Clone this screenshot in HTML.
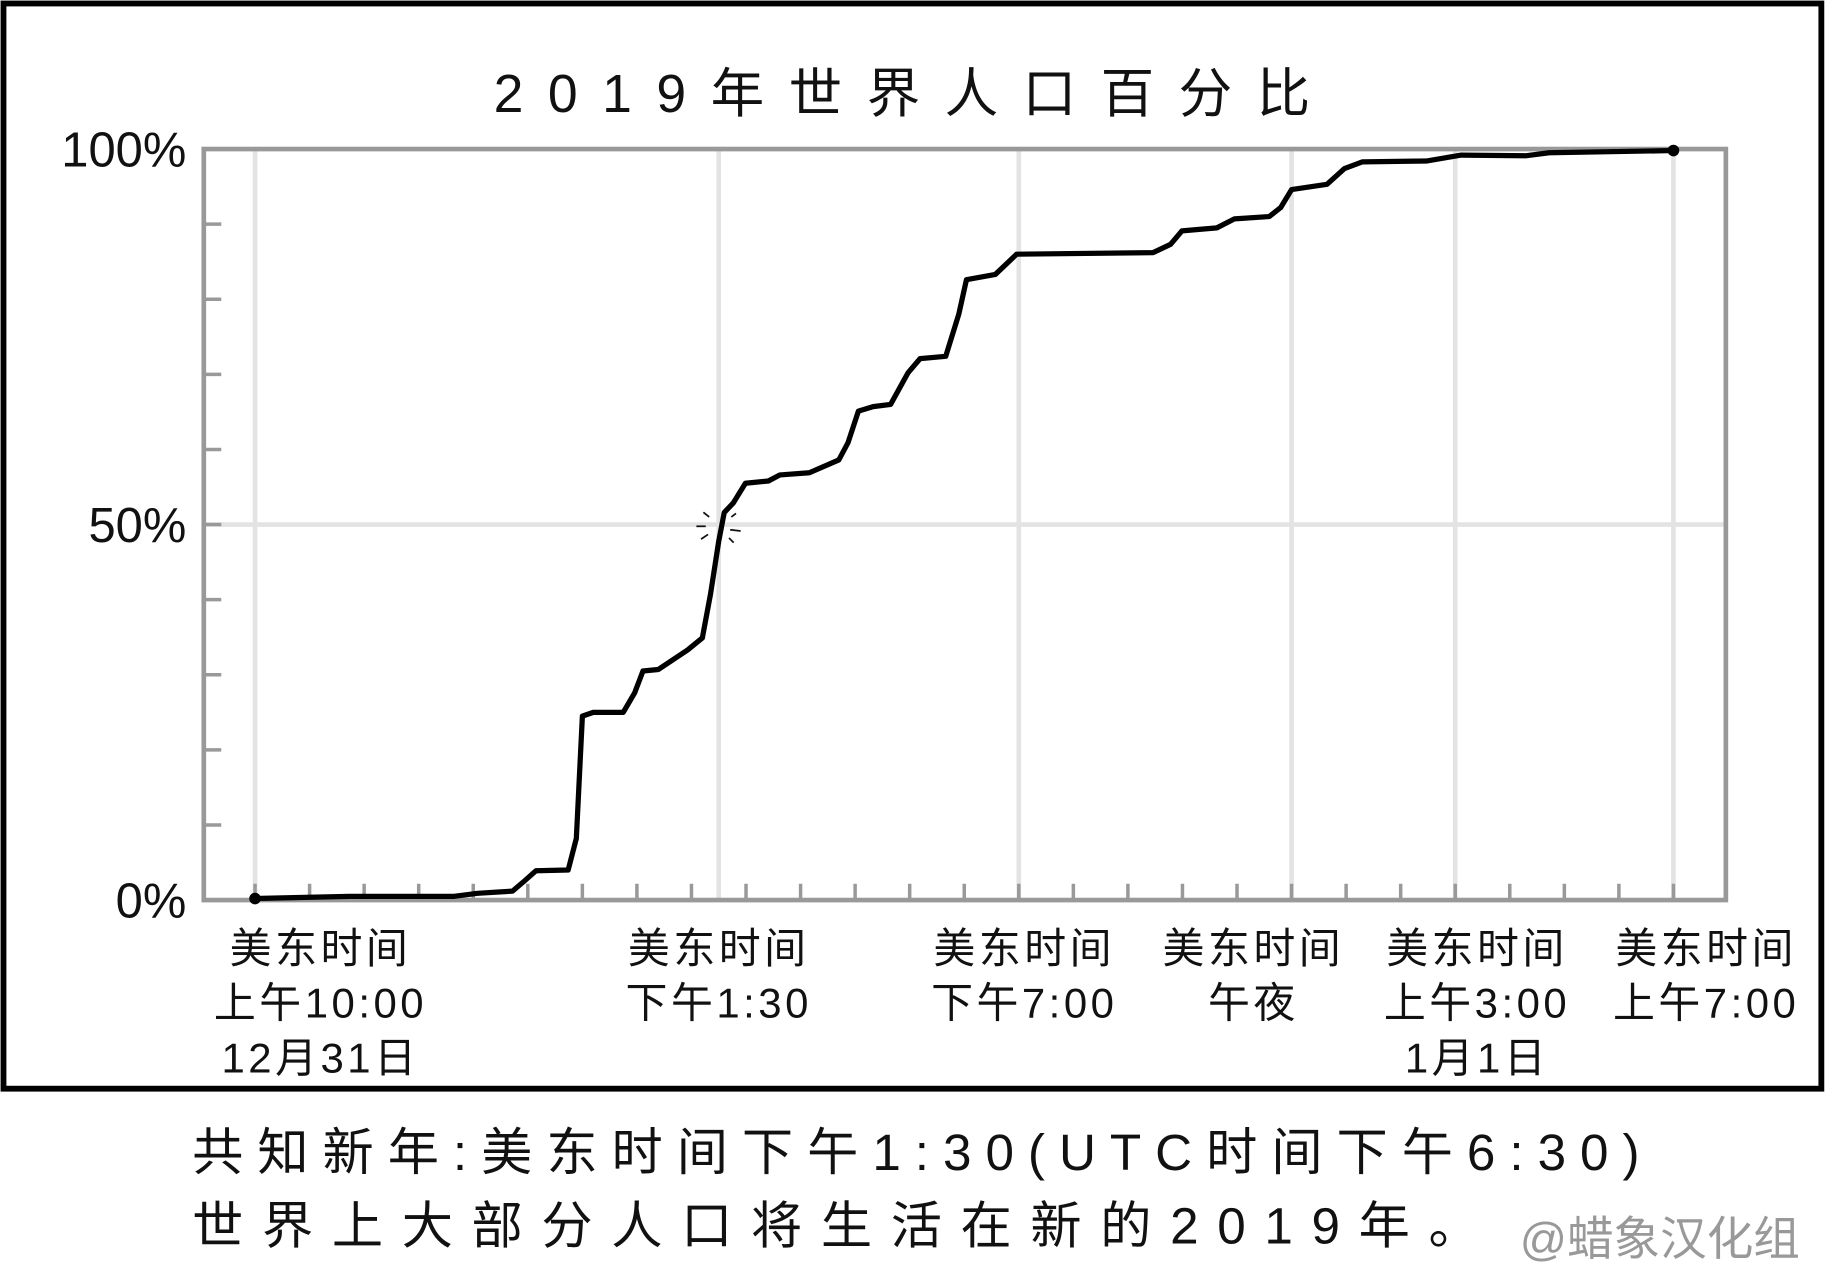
<!DOCTYPE html>
<html><head><meta charset="utf-8">
<style>
html,body{margin:0;padding:0;background:#fff;}
svg{display:block;}
text{font-family:"Liberation Sans","Noto Sans CJK SC",sans-serif;fill:#111;}
</style></head>
<body>
<svg id="chart" width="1826" height="1268" viewBox="0 0 1568 1089" preserveAspectRatio="none" xmlns="http://www.w3.org/2000/svg">
  <rect x="3" y="3" width="1561" height="932" fill="#fff" stroke="#000" stroke-width="5"/>
  <text x="785" y="96" font-size="46" text-anchor="middle" letter-spacing="21">2019年世界人口百分比</text>
  <g id="grid"></g>
  <rect x="175" y="128" width="1307" height="645" fill="none" stroke="#999" stroke-width="4"/>
  <g id="ticks"></g>
  <g id="ylabels"></g>
  <g id="xlabels"></g>
  <g id="series"></g>
  <g stroke="#111" stroke-width="1.5">
    <line x1="604" y1="440" x2="609" y2="444"/><line x1="598" y1="452" x2="606" y2="452"/><line x1="602" y1="463" x2="608" y2="459"/>
    <line x1="628" y1="444" x2="632" y2="441"/><line x1="627" y1="455" x2="636" y2="456"/><line x1="626" y1="462" x2="630" y2="466"/>
  </g>
  <text x="165" y="1005" font-size="44" letter-spacing="12">共知新年:美东时间下午1:30(UTC时间下午6:30)</text>
  <text x="165" y="1068" font-size="44" letter-spacing="16">世界上大部分人口将生活在新的2019年。</text>
  <text x="1305" y="1078" font-size="40" style="fill:#999">@蜡象汉化组</text>
</svg>
<script>
const xTicks = 26;
const yTickPcts = [0,10,20,30,40,50,60,70,80,90,100];
const yLabelPcts = [0,50,100];
const yLabels = ["0%","50%","100%"];
const gridX = [0,8.5,14,19,22,26];
const xLabelLines = [
  ["美东时间","上午10:00","12月31日"],
  ["美东时间","下午1:30"],
  ["美东时间","下午7:00"],
  ["美东时间","午夜"],
  ["美东时间","上午3:00","1月1日"],
  ["美东时间","上午7:00"]
];
const xLabelCenters = [1.2,8.5,14.1,18.3,22.4,26.6];
const seriesT = [0,1.73,3.65,4.08,4.72,4.93,5.15,5.74,5.89,6.0,6.2,6.75,6.96,7.11,7.39,7.93,8.2,8.35,8.5,8.6,8.77,8.99,9.41,9.62,10.16,10.7,10.87,11.06,11.33,11.65,11.97,12.19,12.66,12.9,13.04,13.57,13.96,16.46,16.78,16.99,17.63,17.95,18.59,18.8,19.0,19.65,19.97,20.3,21.47,22.11,23.29,23.72,26];
const seriesPct = [0.2,0.5,0.5,0.9,1.2,2.5,3.9,4.0,8.2,24.5,25.0,25.0,27.6,30.5,30.7,33.3,34.9,40.8,47.8,51.6,52.9,55.5,55.8,56.6,56.9,58.6,60.9,65.1,65.7,66.0,70.2,72.1,72.4,78.0,82.6,83.3,86.0,86.2,87.3,89.1,89.5,90.7,91.0,92.2,94.6,95.3,97.4,98.3,98.4,99.2,99.1,99.5,99.8];

const NS="http://www.w3.org/2000/svg";
const X0=219, X1=1437, Y0=773, Y1=128;
const xs = t => X0 + (X1-X0)*t/xTicks;
const ys = p => Y0 - (Y0-Y1)*p/100;
function mk(tag, attrs, parent){const e=document.createElementNS(NS,tag);for(const k in attrs)e.setAttribute(k,attrs[k]);parent.appendChild(e);return e;}
const grid=document.getElementById('grid'), ticks=document.getElementById('ticks');
gridX.forEach(t=>{const l=mk('line',{x1:xs(t),x2:xs(t),y1:Y1,y2:Y0,stroke:'#e3e3e3','stroke-width':4},grid);

});
{const l=mk('line',{x1:175,x2:1482,y1:ys(50),y2:ys(50),stroke:'#e3e3e3','stroke-width':4},grid);

}
for(let i=0;i<=xTicks;i++){const l=mk('line',{x1:xs(i),x2:xs(i),y1:Y0,y2:Y0-14,stroke:'#999','stroke-width':3},ticks);

}
yTickPcts.forEach(p=>{const l=mk('line',{x1:175,x2:190,y1:ys(p),y2:ys(p),stroke:'#999','stroke-width':3},ticks);

});
const yl=document.getElementById('ylabels');
yLabelPcts.forEach((p,i)=>{const t=mk('text',{x:160,y:ys(p)+15,'font-size':42,'text-anchor':'end'},yl);t.textContent=yLabels[i];

});
const xl=document.getElementById('xlabels');
xLabelLines.forEach((lines,i)=>{lines.forEach((s,j)=>{const t=mk('text',{x:xs(xLabelCenters[i]),y:827+j*47,'font-size':36,'text-anchor':'middle','letter-spacing':3},xl);t.textContent=s;

});});
const sg=document.getElementById('series');
let d='';seriesT.forEach((t,i)=>{d+=(i?'L':'M')+xs(t).toFixed(1)+','+ys(seriesPct[i]).toFixed(1);});
const path=mk('path',{d:d,fill:'none',stroke:'#000','stroke-width':4.5,'stroke-linejoin':'round','stroke-linecap':'round'},sg);


[0,seriesT.length-1].forEach(i=>{const c=mk('circle',{cx:xs(seriesT[i]),cy:ys(seriesPct[i]),r:5,fill:'#000'},sg);

});
</script>
</body></html>
